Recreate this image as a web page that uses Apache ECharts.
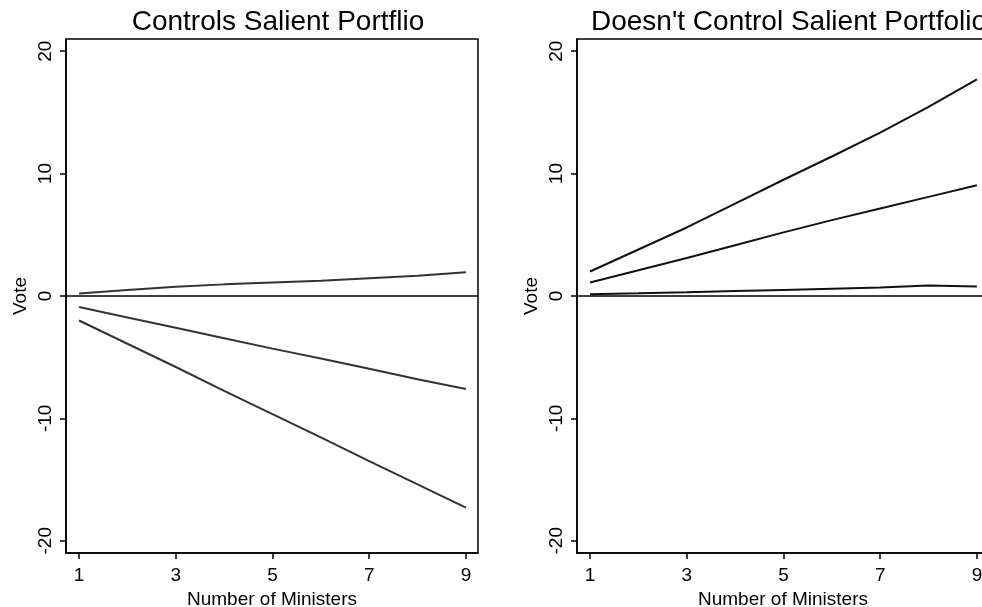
<!DOCTYPE html>
<html>
<head>
<meta charset="utf-8">
<script src="https://cdn.jsdelivr.net/npm/echarts@6/dist/echarts.min.js"></script>
<style>
html, body { margin: 0; padding: 0; background: #fff; }
#chart { width: 982px; height: 607px; }
</style>
</head>
<body>
<div id="chart"></div>
<script>
var ministers = [1, 2, 3, 4, 5, 6, 7, 8, 9];
var xTicks = [1, 3, 5, 7, 9];
var yTicks = [-20, -10, 0, 10, 20];

// Controls Salient Portflio
var ctrlUpper = [0.2, 0.5, 0.75, 0.95, 1.1, 1.25, 1.45, 1.65, 1.95];
var ctrlMid = [-0.9, -1.75, -2.6, -3.45, -4.3, -5.1, -5.95, -6.8, -7.6];
var ctrlLow = [-2.0, -3.9, -5.8, -7.75, -9.65, -11.55, -13.5, -15.4, -17.3];

// Doesn't Control Salient Portfolio
var noCtrlUpper = [2.0, 3.8, 5.6, 7.55, 9.5, 11.4, 13.35, 15.45, 17.7];
var noCtrlMid = [1.1, 2.1, 3.1, 4.15, 5.2, 6.2, 7.15, 8.1, 9.05];
var noCtrlLow = [0.15, 0.22, 0.3, 0.4, 0.5, 0.6, 0.7, 0.85, 0.78];

var font = 'Liberation Sans, Arial, sans-serif';

function pairs(ys) {
	return ministers.map(function(x, i) { return [x, ys[i]]; });
}

function xAxisFor(idx) {
	return {
		type: 'value',
		gridIndex: idx,
		min: 0.73,
		max: 9.25,
		name: 'Number of Ministers',
		nameLocation: 'middle',
		nameGap: 35,
		nameTextStyle: { color: '#000', fontSize: 19, fontFamily: font },
		axisLine: { show: true, onZero: false, lineStyle: { color: '#000', width: 1.5 } },
		axisTick: { show: true, length: 6, customValues: xTicks, lineStyle: { color: '#000', width: 1.5 } },
		axisLabel: { customValues: xTicks, color: '#000', fontSize: 19, fontFamily: font, margin: 13 },
		splitLine: { show: false }
	};
}

function yAxisFor(idx) {
	return {
		type: 'value',
		gridIndex: idx,
		min: -21,
		max: 21,
		name: 'Vote',
		nameLocation: 'middle',
		nameRotate: 90,
		nameGap: 36,
		nameTextStyle: { color: '#000', fontSize: 19, fontFamily: font },
		axisLine: { show: true, onZero: false, lineStyle: { color: '#000', width: 1.5 } },
		axisTick: { show: true, length: 6, customValues: yTicks, lineStyle: { color: '#000', width: 1.5 } },
		axisLabel: { customValues: yTicks, rotate: 90, color: '#000', fontSize: 19, fontFamily: font, margin: 11 },
		splitLine: { show: false }
	};
}

function line(idx, ys, color, zero) {
	var s = {
		type: 'line',
		xAxisIndex: idx,
		yAxisIndex: idx,
		data: pairs(ys),
		showSymbol: false,
		smooth: false,
		lineStyle: { color: color, width: 2 },
		silent: true
	};
	if (zero) {
		s.markLine = {
			silent: true,
			symbol: 'none',
			label: { show: false },
			lineStyle: { color: '#000', width: 1.5, type: 'solid' },
			data: [{ yAxis: 0 }]
		};
	}
	return s;
}

var chart = echarts.init(document.getElementById('chart'));
chart.setOption({
	animation: false,
	backgroundColor: '#fff',
	title: [{
		text: 'Controls Salient Portflio',
		left: 273,
		top: 3,
		textAlign: 'center',
		textStyle: { color: '#000', fontSize: 28, fontWeight: 'normal', fontFamily: font }
	}, {
		text: "Doesn't Control Salient Portfolio",
		left: 784,
		top: 3,
		textAlign: 'center',
		textStyle: { color: '#000', fontSize: 28, fontWeight: 'normal', fontFamily: font }
	}],
	grid: [
		{ left: 66, top: 39, width: 412, height: 514, show: true, borderColor: '#000', borderWidth: 1.5, outerBoundsMode: 'none', containLabel: false },
		{ left: 577, top: 39, width: 412, height: 514, show: true, borderColor: '#000', borderWidth: 1.5, outerBoundsMode: 'none', containLabel: false }
	],
	xAxis: [xAxisFor(0), xAxisFor(1)],
	yAxis: [yAxisFor(0), yAxisFor(1)],
	series: [
		line(0, ctrlUpper, '#333', true),
		line(0, ctrlMid, '#333'),
		line(0, ctrlLow, '#333'),
		line(1, noCtrlUpper, '#111', true),
		line(1, noCtrlMid, '#111'),
		line(1, noCtrlLow, '#111')
	]
});
</script>
</body>
</html>
